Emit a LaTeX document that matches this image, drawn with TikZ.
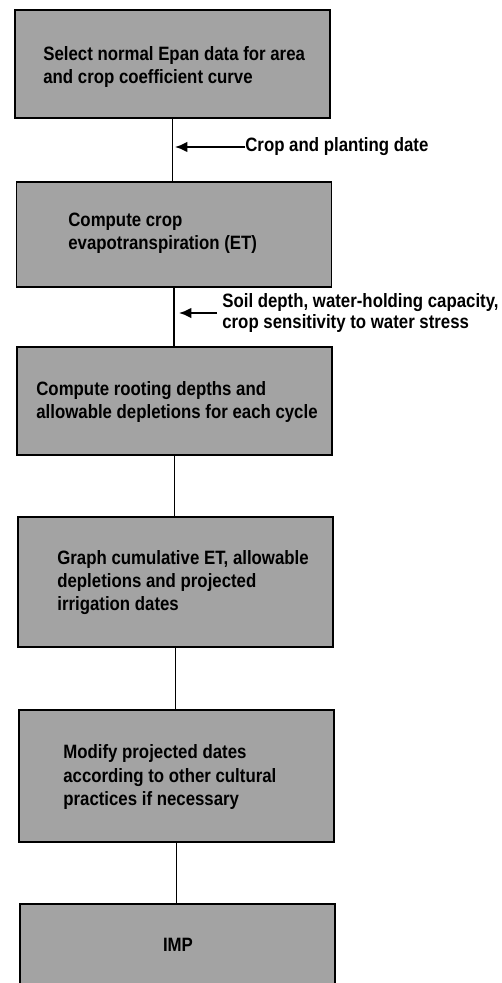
\documentclass[tikz,border=0pt]{standalone}
\usepackage{fontspec}
\setmainfont{Liberation Sans}[FakeStretch=0.87]
\usetikzlibrary{arrows.meta}

\tikzset{
  stage/.style={draw,fill=black!36,line width=0.9pt,minimum width=6.3cm},
  stagetext/.style={inner sep=0pt,align=left,anchor=west,
    font=\bfseries\fontsize{11}{13.1}\selectfont},
  feed/.style={inner sep=0pt,align=left,anchor=west,
    font=\bfseries\fontsize{11}{12.4}\selectfont},
  spine/.style={line width=0.6pt},
  input/.style={line width=1.1pt,-{Latex[length=7pt,width=6pt]}}
}

\begin{document}
\begin{tikzpicture}[x=0.02cm,y=-0.02cm]
	\useasboundingbox (0,0) rectangle (502,983);
	% boxes
	\node[stage,minimum height=2.16cm] (b1) at (172.5,64) {};
	\node[stage,minimum height=2.10cm] (b2) at (174,234.5) {};
	\node[stage,minimum height=2.16cm] (b3) at (174.5,401) {};
	\node[stage,minimum height=2.60cm] (b4) at (175.5,582) {};
	\node[stage,minimum height=2.64cm] (b5) at (176.5,776) {};
	\node[stage,minimum height=1.80cm] (b6) at (177.5,949) {};
	% texts
	\node[stagetext] (t1) at (43,67) {Select normal Epan data for area\\and crop coefficient curve};
	\node[stagetext] (t2) at (68,233) {Compute crop\\evapotranspiration (ET)};
	\node[stagetext] (t3) at (36,402) {Compute rooting depths and\\allowable depletions for each cycle};
	\node[stagetext] (t4) at (57,583) {Graph cumulative ET, allowable\\depletions and projected\\irrigation dates};
	\node[stagetext] (t5) at (63,777) {Modify projected dates\\according to other cultural\\practices if necessary};
	\node[stagetext,anchor=center] (t6) at (178,945) {IMP};
	% links
	\draw[spine] (b1.south) -- (b1.south |- b2.north);
	\draw[spine] (b2.south) -- (b2.south |- b3.north);
	\draw[spine] (b3.south) -- (b3.south |- b4.north);
	\draw[spine] (b4.south) -- (b4.south |- b5.north);
	\draw[spine] (b5.south) -- (b5.south |- b6.north);
	% inputs
	\node[feed] (l1) at (245,147) {Crop and planting date};
	\node[feed] (l2) at (222,313) {Soil depth, water-holding capacity,\\crop sensitivity to water stress};
	\draw[input] (l1.west) -- ([xshift=0.05cm]l1.west -| b1.south);
	\draw[input] ([xshift=-0.1cm]l2.west) -- ([xshift=0.1cm]l2.west -| b2.south);
\end{tikzpicture}
\end{document}
